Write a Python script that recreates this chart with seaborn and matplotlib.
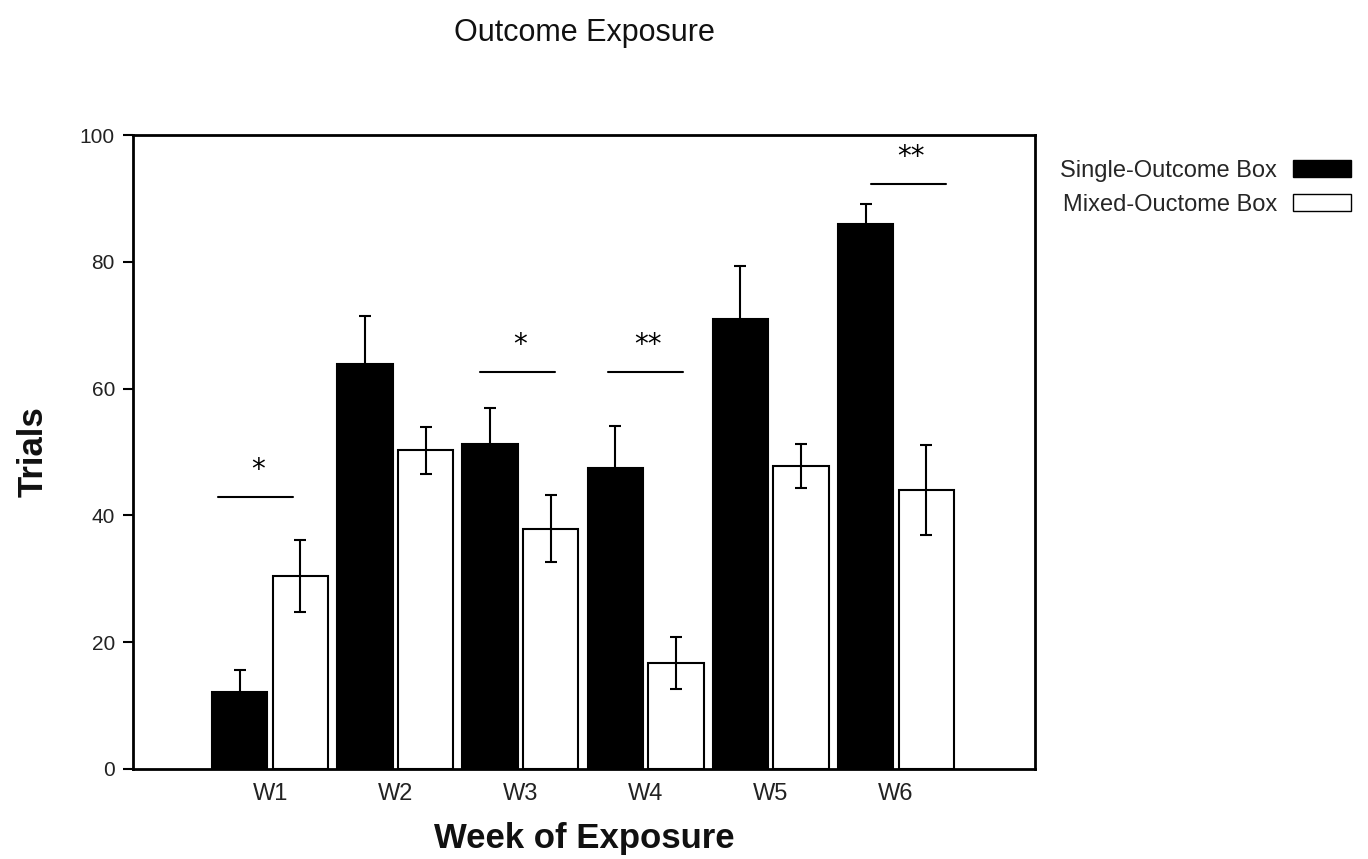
import matplotlib
matplotlib.use("Agg")
import matplotlib.pyplot as plt
import pandas as pd
import seaborn as sns
from matplotlib.patches import Patch

# ---- data ----
weeks = ["W1", "W2", "W3", "W4", "W5", "W6"]
groups = ["Single-Outcome Box", "Mixed-Ouctome Box"]
single_mean = [12.1, 63.9, 51.3, 47.5, 71.0, 86.0]
single_err = [3.5, 7.6, 5.7, 6.6, 8.3, 3.1]
mixed_mean = [30.4, 50.3, 37.9, 16.7, 47.8, 44.0]
mixed_err = [5.7, 3.7, 5.3, 4.1, 3.4, 7.1]

# significance markers: week, label, bar height
sig_weeks = ["W1", "W3", "W4", "W6"]
sig_labels = ["*", "*", "**", "**"]
sig_heights = [42.9, 62.6, 62.6, 92.3]

df = pd.DataFrame({
    "week": weeks * 2,
    "group": [groups[0]] * len(weeks) + [groups[1]] * len(weeks),
    "trials": single_mean + mixed_mean,
    "err": single_err + mixed_err,
})

sns.set_theme(style="ticks")
plt.rcParams["font.family"] = ["Liberation Sans", "DejaVu Sans"]

fig = plt.figure(figsize=(13.68, 8.59), dpi=100)
ax = fig.add_axes([0.0972, 0.1048, 0.6594, 0.738])

sns.barplot(
    data=df, x="week", y="trials", hue="group", order=weeks, hue_order=groups,
    palette={groups[0]: "black", groups[1]: "white"},
    edgecolor="black", linewidth=1.5, width=0.97, gap=0.09,
    errorbar=None, legend=False, ax=ax,
)

# error bars on each bar, taken from the bar patches
for container, g in zip(ax.containers, groups):
    sub = df[df["group"] == g].set_index("week").loc[weeks]
    xs = [p.get_x() + p.get_width() / 2 for p in container.patches]
    ax.errorbar(xs, sub["trials"], yerr=sub["err"], fmt="none",
                ecolor="black", elinewidth=1.5, capsize=4, capthick=1.5, zorder=3)

# significance lines and stars
offsets = {"W1": -0.12, "W3": -0.02, "W4": 0.0, "W6": 0.1}
for w, lab, h in zip(sig_weeks, sig_labels, sig_heights):
    xc = weeks.index(w) + offsets[w]
    ax.plot([xc - 0.3, xc + 0.3], [h, h], color="black", lw=1.5)
    ax.text(xc + 0.02, h + 2.0, lab, ha="center", va="bottom", fontsize=20,
            family="DejaVu Sans", color="black")

ax.set_xlim(-1.096, 6.112)
ax.set_ylim(0, 100)
ax.set_yticks([0, 20, 40, 60, 80, 100])
ax.tick_params(axis="y", length=7, width=1.5, labelsize=15, pad=6, colors="black")
ax.tick_params(axis="x", length=0, labelsize=17, pad=10, colors="black")
for lbl in ax.get_xticklabels() + ax.get_yticklabels():
    lbl.set_color("#222222")
for s in ax.spines.values():
    s.set_visible(True)
    s.set_color("black")
    s.set_linewidth(2)

ax.set_xlabel("Week of Exposure", fontsize=25, fontweight="bold", labelpad=12, color="#111111")
ax.set_ylabel("Trials", fontsize=25, fontweight="bold", labelpad=22, color="#111111")
ax.set_title("Outcome Exposure", fontsize=22, pad=68, color="#111111")

handles = [Patch(facecolor="black", edgecolor="black", lw=1),
           Patch(facecolor="white", edgecolor="black", lw=1)]
fig.legend(handles, groups, loc="upper left", bbox_to_anchor=(0.768, 0.825),
           frameon=False, markerfirst=False, fontsize=17,
           handlelength=2.45, handleheight=0.75, labelspacing=0.5,
           handletextpad=0.7, borderaxespad=0)

fig.savefig("out.png", dpi=100)
